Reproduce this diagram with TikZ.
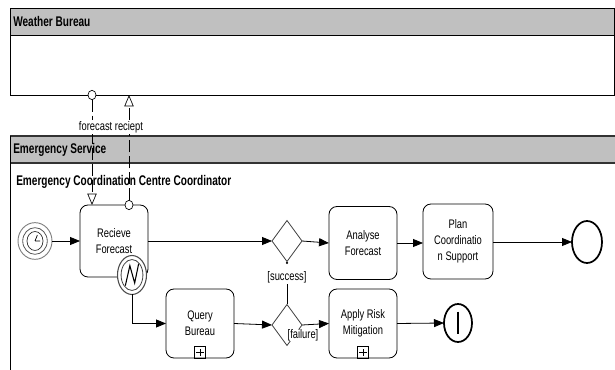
\documentclass[tikz,border=0pt]{standalone}
\usepackage{fontspec}
\setmainfont[FakeStretch=0.755]{Liberation Sans}
\newfontfamily\hdfont[FakeStretch=0.72]{Liberation Sans}
\usetikzlibrary{shapes.geometric,arrows.meta}
\definecolor{lanegray}{RGB}{192,192,192}
\tikzset{
  lbl/.style={font=\fontsize{9.3}{12}\selectfont, inner sep=0pt, align=center},
  hdr/.style={font=\hdfont\bfseries\fontsize{10.5}{12}\selectfont, inner sep=0pt, anchor=west},
  task/.style={draw, rounded corners=6pt, line width=0.6pt, fill=white, lbl, outer sep=0pt},
  gate/.style={draw=black!75, diamond, line width=0.6pt, fill=white, inner sep=0pt, outer sep=0pt,
               minimum width=22.5pt, minimum height=30.75pt},
  evt/.style={draw, ellipse, fill=white, inner sep=0pt, outer sep=0pt},
  flow/.style={line width=0.6pt, -{Triangle[length=7.5pt,width=6pt]}},
  msg/.style={line width=0.5pt, dash pattern=on 9pt off 3pt, -{Triangle[open,length=8.5pt,width=7pt]}},
  msgdot/.style={draw, ellipse, fill=white, inner sep=0pt, outer sep=0pt, line width=0.5pt,
                 minimum width=6pt, minimum height=7pt}
}
\begin{document}
\begin{tikzpicture}[x=0.75pt, y=-0.75pt]
\useasboundingbox (0,0) rectangle (615,370);

% pool: Weather Bureau
\fill[lanegray] (10,8) rectangle (614,35);
\draw[line width=0.7pt] (10,8) rectangle (614,95);
\draw[line width=0.7pt] (10,35) -- (614,35);
\node[hdr] (wbtitle) at (13,21.5) {Weather Bureau};

% pool: Emergency Service
\fill[lanegray] (10,136) rectangle (616,163);
\draw[line width=0.9pt, black!80] (10,136) -- (616,136) (10,163) -- (616,163);
\draw[line width=0.7pt] (10,136) -- (10,370);
\node[hdr] (estitle) at (13,150) {Emergency Service};
\node[hdr] (lanetitle) at (16,182) {Emergency Coordination Centre Coordinator};

% tasks
\node[task, minimum width=51pt, minimum height=54pt] (rf) at (114,241) {Recieve\\Forecast};
\node[task, minimum width=51pt, minimum height=51.75pt] (qb) at (200,323.5) {Query\\Bureau};
\node[task, minimum width=51pt, minimum height=54.75pt] (af) at (363,243) {Analyse\\Forecast};
\node[task, minimum width=52.5pt, minimum height=56.25pt] (pc) at (458,241.5) {Plan\\Coordinatio\\n Support};
\node[task, minimum width=51pt, minimum height=51.75pt] (ar) at (363,323.5) {Apply Risk\\Mitigation};

% collapsed sub-process markers
\foreach \t in {qb,ar}{
  \draw[line width=0.5pt] ([xshift=-4pt]\t.south) rectangle ([xshift=4pt,yshift=8.5pt]\t.south);
  \draw[line width=0.5pt] ([yshift=1.5pt]\t.south) -- ([yshift=7pt]\t.south)
                          ([xshift=-2.8pt,yshift=4.25pt]\t.south) -- ([xshift=2.8pt,yshift=4.25pt]\t.south);
}

% gateways
\node[gate] (d1) at (287,241) {};
\node[gate] (d2) at (287,325) {};

% timer start event
\node[evt, draw=black!50, line width=0.7pt, minimum width=25.5pt, minimum height=27.5pt] (start) at (35,241) {};
\draw[black!65, line width=0.6pt] (start.center) ellipse [x radius=9.2pt, y radius=10pt];
\draw[black!85, line width=0.5pt] (start.center) ellipse [x radius=6pt, y radius=7.1pt];
\draw[line width=0.5pt] (start.center) -- ++(1.8pt,4.5pt) (start.center) -- ++(3.8pt,0pt);

% intermediate error event on the boundary of the task
\node[evt, draw=black!70, line width=0.8pt, minimum width=21.75pt, minimum height=29.25pt] (err) at (132,275) {};
\draw[black!75, line width=0.6pt] (err.center) ellipse [x radius=8.2pt, y radius=11.6pt];
\draw[line width=0.8pt] ([xshift=-5pt,yshift=-8pt]err.center) -- ([xshift=-1.6pt,yshift=7pt]err.center)
   -- ([xshift=2pt,yshift=-6pt]err.center) -- ([xshift=5pt,yshift=8.5pt]err.center);

% end events
\node[evt, line width=1.3pt, minimum width=22.5pt, minimum height=31.5pt] (endok) at (587,242) {};
\node[evt, line width=1.3pt, minimum width=21pt, minimum height=28.5pt] (endfail) at (458,323) {};
\draw[line width=1.3pt] ([yshift=8.5pt]endfail.center) -- ([yshift=-8.5pt]endfail.center);

% sequence flows
\draw[flow] (start) -- (rf);
\draw[flow] (rf.east) -- (d1.west);
\draw[flow] (d1.east) -- (af.west);
\draw[flow] (af.east) -- (pc.west |- af.east);
\draw[flow] (pc.east |- endok.west) -- (endok.west);
\draw[flow] (err.south) |- (qb.west);
\draw[flow] (qb.east) -- (d2.west);
\draw[flow] (d2.east) -- (ar.west);
\draw[flow] (ar.east) -- (endfail.west);

% conditions
\fill ([yshift=-1pt]d1.south) circle (0.9pt);
\node[lbl, fill=white, inner sep=1pt] (succ) at (287,277) {[success]};
\draw[line width=0.6pt] (succ.south) -- (d2.north);
\node[lbl, fill=white, inner sep=0.5pt] (fail) at (303,335) {[failure]};

% message flows between the pools
\coordinate (wbport) at (129,95);
\node[msgdot] (mc1) at (92,95) {};
\node[msgdot] (mc2) at (129,205) {};
\draw[msg] (mc1.south) -- (mc1.south |- rf.north);
\draw[msg] (mc2.north) -- (wbport);
\node[lbl, fill=white, inner sep=1pt] (mflabel) at (111,127) {forecast reciept};
\end{tikzpicture}
\end{document}
